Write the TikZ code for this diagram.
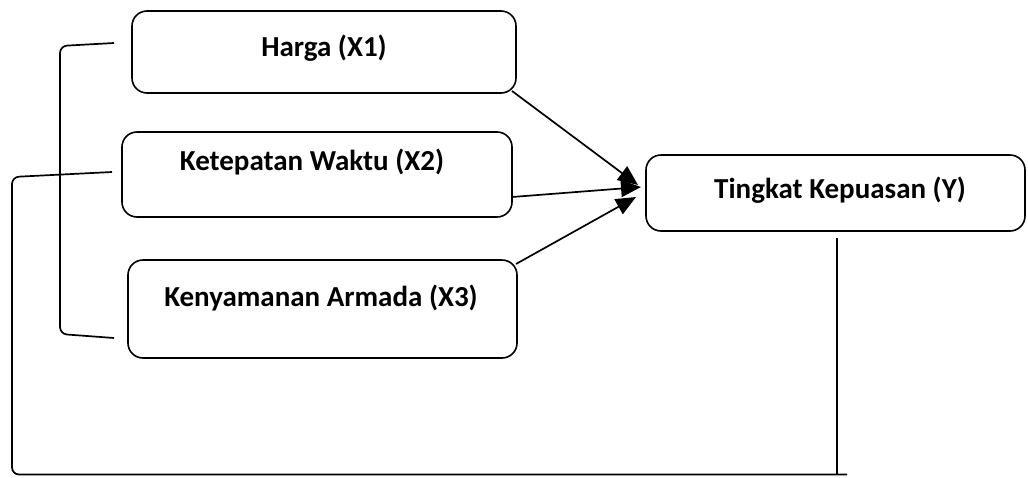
\documentclass[tikz,border=0pt]{standalone}
\usepackage{fontspec}
\setmainfont{Carlito}
\usetikzlibrary{arrows.meta}
\begin{document}
\begin{tikzpicture}[x=1pt,y=-1pt,
  box/.style={draw=black, line width=1.6pt, rounded corners=15pt, inner sep=0pt},
  lbl/.style={anchor=base, inner sep=0pt, font=\fontsize{29}{33}\selectfont\bfseries},
  conn/.style={draw=black, line width=1.7pt},
  arr/.style={conn, -{Triangle[length=20pt,width=17pt]}},
  brk/.style={conn, rounded corners=7pt}]
\useasboundingbox (0,0) rectangle (1028,477);
% boxes
\node[box, minimum width=384pt, minimum height=82pt] (x1) at (324,52) {};
\node[box, minimum width=390pt, minimum height=85pt] (x2) at (317,174.5) {};
\node[box, minimum width=389pt, minimum height=98pt] (x3) at (322.5,309) {};
\node[box, minimum width=379pt, minimum height=76pt] (y) at (835.5,193) {};
% labels
\node[lbl] (x1t) at (324,56) {Harga (X1)};
\node[lbl] (x2t) at (312,170) {Ketepatan Waktu (X2)};
\node[lbl] (x3t) at (321,306) {Kenyamanan Armada (X3)};
\node[lbl] (yt) at (840,198) {Tingkat Kepuasan (Y)};
% arrow points
\coordinate (s1) at (512,91);
\coordinate (s2) at (512,197);
\coordinate (s3) at (516,264);
\coordinate (t1) at (638,185);
\coordinate (t2) at (641,187);
\coordinate (t3) at (636,197);
\draw[arr] (s1) -- (t1);
\draw[arr] (s2) -- (t2);
\draw[arr] (s3) -- (t3);
% bracket 1
\coordinate (b1a) at (114,43);
\coordinate (b1b) at (114,338);
\draw[brk] (b1a) -- (60,46) -- (60,334) -- (b1b);
% bracket 2
\coordinate (b2a) at (112,172);
\coordinate (b2b) at (837,238);
\draw[brk] (b2a) -- (12,177) -- (12,474.5) -- (847,474.5);
\draw[conn] (b2b) -- (837,474.5);
\end{tikzpicture}
\end{document}
